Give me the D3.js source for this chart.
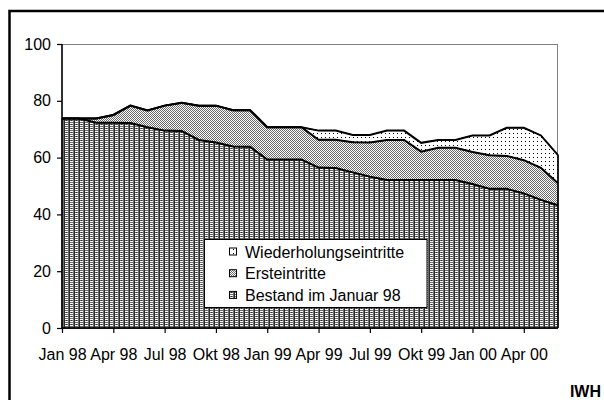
<!DOCTYPE html>
<html><head><meta charset="utf-8">
<script src="https://cdn.jsdelivr.net/npm/d3@7"></script>
<style>
html,body{margin:0;padding:0;background:#fff;overflow:hidden;}
svg{display:block;font-family:"Liberation Sans",Arial,sans-serif;}
</style></head>
<body>
<svg id="chart" width="604" height="400"></svg>
<script>
const months = ["Jan 98","Feb 98","Mär 98","Apr 98","Mai 98","Jun 98","Jul 98","Aug 98","Sep 98","Okt 98","Nov 98","Dez 98",
"Jan 99","Feb 99","Mär 99","Apr 99","Mai 99","Jun 99","Jul 99","Aug 99","Sep 99","Okt 99","Nov 99","Dez 99",
"Jan 00","Feb 00","Mär 00","Apr 00","Mai 00","Jun 00"];
const tickLabels = ["Jan 98","Apr 98","Jul 98","Okt 98","Jan 99","Apr 99","Jul 99","Okt 99","Jan 00","Apr 00"];
const yTicks = [0,20,40,60,80,100];
const seriesNames = ["Bestand im Januar 98","Ersteintritte","Wiederholungseintritte"];
const bestand = [73.8,73.8,72.3,72.3,72.2,70.7,69.5,69.4,66.2,65.3,63.9,63.8,59.3,59.3,59.3,56.5,56.3,54.8,53.3,52.1,52.1,52.1,52.1,52.1,50.7,49.0,49.0,47.4,45.1,43.2];
const erst = [0,0,1.5,2.7,6.1,5.9,8.8,9.9,12.1,13.0,12.8,12.9,11.4,11.4,11.4,9.8,10.0,10.6,12.0,14.1,14.1,10.0,11.4,11.4,11.3,11.8,11.6,11.7,11.3,7.8];
const wieder = [0,0,0,0,0,0,0,0,0,0,0,0,0,0,0,3.2,3.2,2.6,2.7,3.3,3.3,3.1,2.7,2.7,5.8,7.0,9.9,11.4,11.4,9.9];

const svg = d3.select("#chart");
const L = 62, R = 558, T = 44, B = 328;
const x = d3.scalePoint().domain(months).range([L, R]);
const y = d3.scaleLinear().domain([0, 100]).range([B, T]);

// patterns
const defs = svg.append("defs");
const p1 = defs.append("pattern").attr("id","pWieder").attr("patternUnits","userSpaceOnUse").attr("width",4).attr("height",4);
p1.append("rect").attr("width",4).attr("height",4).attr("fill","#fff");
p1.append("rect").attr("x",1).attr("y",1).attr("width",1).attr("height",1).attr("fill","#000");

const p2 = defs.append("pattern").attr("id","pErst").attr("patternUnits","userSpaceOnUse").attr("width",2).attr("height",2);
p2.append("rect").attr("width",2).attr("height",2).attr("fill","#fff");
p2.append("rect").attr("x",0).attr("y",0).attr("width",1).attr("height",1).attr("fill","#6a6a6a");
p2.append("rect").attr("x",1).attr("y",1).attr("width",1).attr("height",1).attr("fill","#6a6a6a");

const p3 = defs.append("pattern").attr("id","pBestand").attr("patternUnits","userSpaceOnUse").attr("width",5).attr("height",4);
p3.append("rect").attr("width",5).attr("height",4).attr("fill","#6c6c6c");
p3.append("rect").attr("x",0).attr("y",1).attr("width",3).attr("height",1).attr("fill","#fff");
p3.append("rect").attr("x",0).attr("y",3).attr("width",3).attr("height",1).attr("fill","#fff");
p3.append("rect").attr("x",4).attr("y",0).attr("width",1).attr("height",4).attr("fill","#2a2a2a");
p3.append("rect").attr("x",1).attr("y",0).attr("width",1).attr("height",1).attr("fill","#2a2a2a");
const fills = ["url(#pBestand)","url(#pErst)","url(#pWieder)"];

// outer frame
svg.append("rect").attr("x",9.5).attr("y",11).attr("width",700).attr("height",500)
  .attr("fill","none").attr("stroke","#000").attr("stroke-width",2.5);

// plot border
svg.append("rect").attr("x",L).attr("y",T+0.5).attr("width",R-L-0.5).attr("height",B-T)
  .attr("fill","#fff").attr("stroke","#808080").attr("stroke-width",1);

// stacked areas
const table = months.map((m,i)=>({m, b: bestand[i], e: erst[i], w: wieder[i]}));
const stack = d3.stack().keys(["b","e","w"]);
const layers = stack(table);
const area = d3.area().x(d=>x(d.data.m)).y0(d=>y(d[0])).y1(d=>y(d[1]));
const line = d3.line().x(d=>x(d.data.m)).y(d=>y(d[1]));
svg.append("g").selectAll("path.area").data(layers).join("path")
  .attr("class","area").attr("d",area).attr("fill",(d,i)=>fills[i])
  .attr("stroke","#000").attr("stroke-width",1);
svg.append("g").selectAll("path.top").data(layers).join("path")
  .attr("class","top").attr("d",line).attr("fill","none")
  .attr("stroke","#000").attr("stroke-width",2).attr("stroke-linejoin","miter");
svg.append("line").attr("x1",R).attr("x2",R).attr("y1",y(bestand[29]+erst[29]+wieder[29])).attr("y2",B)
  .attr("stroke","#000").attr("stroke-width",1.5);

// axes
const yAxis = d3.axisLeft(y).tickValues(yTicks).tickSize(5).tickPadding(6);
const gy = svg.append("g").attr("transform",`translate(${L},0)`).call(yAxis);
gy.select(".domain").attr("stroke","#000").attr("stroke-width",1.5).attr("d",`M0,${T}V${B}`);
gy.selectAll(".tick line").attr("stroke","#000").attr("stroke-width",1.2);
gy.selectAll(".tick text").attr("font-size","16px").attr("fill","#000").attr("font-family","Liberation Sans, Arial, sans-serif");

const xAxis = d3.axisBottom(x).tickValues(tickLabels).tickSize(5).tickPadding(16);
const gx = svg.append("g").attr("transform",`translate(0,${B})`).call(xAxis);
gx.select(".domain").attr("stroke","#000").attr("stroke-width",1.5).attr("d",`M${L},0H${R}`);
gx.selectAll(".tick line").attr("stroke","#000").attr("stroke-width",1.2);
gx.selectAll(".tick text").attr("font-size","16px").attr("fill","#000").attr("font-family","Liberation Sans, Arial, sans-serif");

// legend
const lg = svg.append("g");
lg.append("rect").attr("x",204.5).attr("y",239.5).attr("width",222.5).attr("height",68)
  .attr("fill","#fff").attr("stroke","#000").attr("stroke-width",1);
const legendItems = [seriesNames[2], seriesNames[1], seriesNames[0]];
const legendFills = [fills[2], fills[1], fills[0]];
legendItems.forEach((name,i)=>{
  const cy = 251.5 + i*21.7;
  lg.append("rect").attr("x",229.5).attr("y",cy-3.5).attr("width",7).attr("height",7)
    .attr("fill",legendFills[i]).attr("stroke","#000").attr("stroke-width",1);
  lg.append("text").attr("x",245).attr("y",cy+6).attr("font-size","16px").attr("fill","#000").text(name);
});

// IWH
svg.append("text").attr("x",601).attr("y",397).attr("text-anchor","end")
  .attr("font-size","16px").attr("font-weight","bold").attr("fill","#000").text("IWH");
</script>
</body></html>
